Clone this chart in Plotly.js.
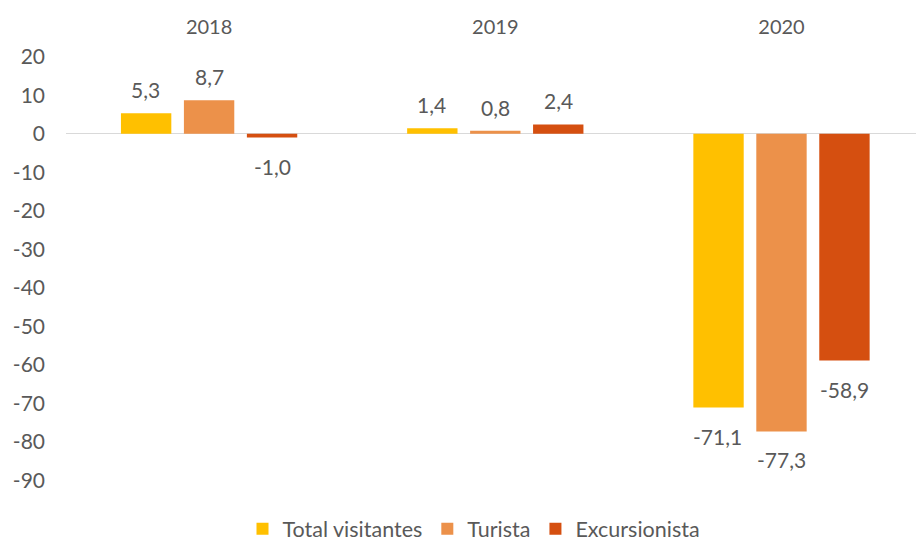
<!DOCTYPE html>
<html><head><meta charset="utf-8">
<script src="https://cdn.plot.ly/plotly-3.0.1.min.js"></script>
<style>html,body{margin:0;padding:0;background:#fff}#c{width:916px;height:543px}</style>
</head><body><div id="c"></div>
<script>
const years = ['2018', '2019', '2020'];
const seriesNames = ['Total visitantes', 'Turista', 'Excursionista'];
const totalVisitantes = [5.3, 1.4, -71.1];
const turista = [8.7, 0.8, -77.3];
const excursionista = [-1.0, 2.4, -58.9];
const yTicks = [20, 10, 0, -10, -20, -30, -40, -50, -60, -70, -80, -90];
const colors = ['#FFC000', '#EC914A', '#D54F10'];

const fmt = v => v.toFixed(1).replace('.', ',');
const seriesValues = [totalVisitantes, turista, excursionista];
const font = 'Lato, "Open Sans", sans-serif';
const txtColor = '#595959';
const data = seriesValues.map((vals, i) => ({
  type: 'bar', x: years, y: vals, name: seriesNames[i],
  marker: {color: colors[i]}, hoverinfo: 'none'
}));
const barOffsets = [-63.5, 0, 63.5];
const annotations = [];
seriesValues.forEach((vals, i) => {
  vals.forEach((v, j) => {
    annotations.push({
      x: j, y: v, xref: 'x', yref: 'y', text: fmt(v), showarrow: false,
      xshift: barOffsets[i], yanchor: v >= 0 ? 'bottom' : 'top', yshift: v >= 0 ? 9 : -14,
      font: {family: font, size: 21, color: txtColor}
    });
  });
});
const layout = {
  width: 916, height: 543,
  margin: {l: 66, r: 0, t: 49, b: 55, autoexpand: false},
  paper_bgcolor: '#fff', plot_bgcolor: '#fff',
  barmode: 'group', bargap: 0.34, bargroupgap: 0.2,
  font: {family: font, color: txtColor, size: 21},
  annotations: annotations,
  xaxis: {side: 'top', type: 'category', range: [-0.5, 2.47], showgrid: false, showline: false,
    ticks: '', ticklabelstandoff: 10, tickfont: {size: 20, color: txtColor}, zeroline: false},
  yaxis: {range: [-92, 22], tickvals: yTicks, ticktext: yTicks.map(String), showgrid: false,
    zeroline: true, zerolinecolor: '#d9d9d9', zerolinewidth: 1.5, showline: false, ticks: '',
    ticklabelstandoff: 20, tickfont: {size: 21, color: txtColor}},
  showlegend: true,
  legend: {orientation: 'h', x: 0.48, xanchor: 'center', xref: 'paper', y: -0.093, yanchor: 'middle',
    font: {size: 21.5, color: txtColor}, itemwidth: 30, tracegroupgap: 0}
};
Plotly.newPlot('c', data, layout, {displayModeBar: false, staticPlot: true});
</script></body></html>
